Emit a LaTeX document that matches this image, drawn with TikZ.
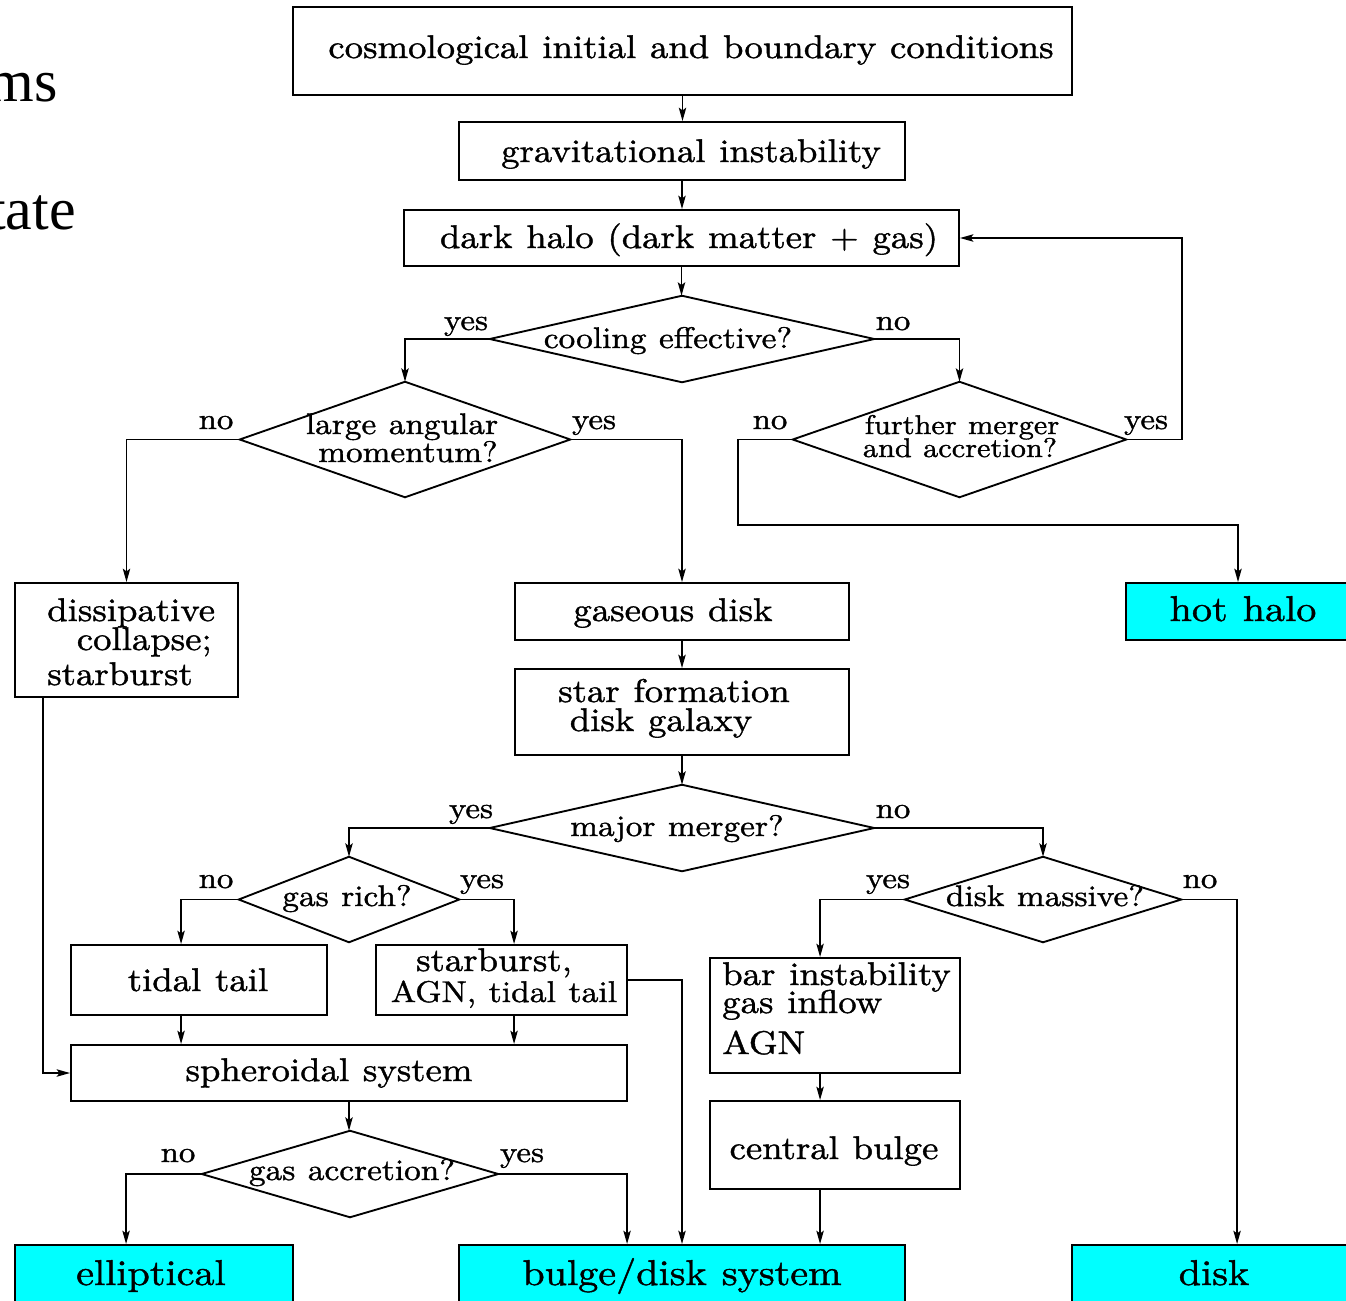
\documentclass[tikz,border=0pt]{standalone}
\usepackage{fontspec}
\newfontfamily\timesf{Liberation Serif}
\newfontfamily\diagf{lmroman10-regular.otf}[FakeStretch=1.12,FakeBold=1.2]
\usetikzlibrary{fit,calc,arrows.meta}
\definecolor{cy}{RGB}{0,255,255}
\newcommand\fboxtxt{\diagf\fontsize{24.6}{29}\selectfont\spaceskip=0.42em plus 0.1em}
\newcommand\fnarrowtxt{\diagf\fontsize{22.5}{27}\selectfont\spaceskip=0.42em plus 0.1em}
\newcommand\fdectxt{\diagf\fontsize{22.3}{27}\selectfont\spaceskip=0.42em plus 0.1em}
\newcommand\flabtxt{\diagf\fontsize{22}{26}\selectfont}
\newcommand\ftermtxt{\diagf\fontsize{26.9}{31}\selectfont\spaceskip=0.42em plus 0.1em}
\newcommand\fsmalltxt{\diagf\fontsize{20.3}{24}\selectfont\spaceskip=0.42em plus 0.1em}
\tikzset{
  ln/.style={line width=1.4pt},
  arr/.style={ln,-{Stealth[length=10pt,width=5.5pt,inset=2pt]}},
  box/.style={draw,ln,inner sep=0pt},
  term/.style={box,fill=cy},
  dec/.style={inner sep=0pt},
  bt/.style={inner sep=0pt,anchor=base,font=\fboxtxt},
  btl/.style={inner sep=0pt,anchor=base west,font=\fboxtxt},
  dt/.style={inner sep=0pt,anchor=base,font=\fdectxt},
  lab/.style={inner sep=0pt,anchor=base,font=\flabtxt},
  tt/.style={inner sep=0pt,anchor=base,font=\ftermtxt},
  side/.style={inner sep=0pt,font=\timesf\fontsize{45}{50}\selectfont},
}
\newcommand\diam[1]{\draw[ln] (#1.north) -- (#1.east) -- (#1.south) -- (#1.west) -- cycle;}
\begin{document}
\begin{tikzpicture}[x=0.75pt,y=-0.75pt]
\useasboundingbox (0,0) rectangle (1346,1300);
\fill[white] (0,0) rectangle (1346,1300);
\clip (0,0) rectangle (1346,1300);

% stray slide text
\node[side,anchor=base east] (s1) at (58,101) {ms};
\node[side,anchor=base east] (s2) at (76,229) {tate};

% boxes
\node[box,fit={(293,7)(1072,95)}] (b1) {};
\node[bt] (b1t) at (691,58) {cosmological initial and boundary conditions};
\node[box,fit={(459,122)(905,180)}] (b2) {};
\node[bt] (b2t) at (691,162) {gravitational instability};
\node[box,fit={(404,210)(959,266)}] (b3) {};
\node[bt] (b3t) at (689,248) {dark halo (dark matter + gas)};
\node[box,fit={(15,583)(238,697)}] (b4) {};
\node[btl] (b4a) at (47,621) {dissipative};
\node[bt,anchor=base east] (b4b) at (212,650) {collapse;};
\node[btl] (b4c) at (47,685) {starburst};
\node[box,fit={(515,583)(849,640)}] (b5) {};
\node[bt] (b5t) at (673,621) {gaseous disk};
\node[box,fit={(515,669)(849,755)}] (b6) {};
\node[bt] (b6a) at (674,702) {star formation};
\node[bt] (b6b) at (661,731) {disk galaxy};
\node[term,fit={(1126,583)(1350,640)}] (hot) {};
\node[tt] (hott) at (1243,621) {hot halo};
\node[box,fit={(71,945)(327,1015)}] (b7) {};
\node[bt] (b7t) at (198,991) {tidal tail};
\node[box,fit={(376,945)(627,1015)}] (b8) {};
\node[bt] (b8a) at (494,971) {starburst,};
\node[bt,font=\fnarrowtxt] (b8b) at (504,1002) {AGN, tidal tail};
\node[box,fit={(71,1045)(627,1101)}] (b9) {};
\node[bt] (b9t) at (329,1081) {spheroidal system};
\node[box,fit={(710,958)(960,1073)}] (b13) {};
\node[btl] (b13a) at (722,985) {bar instability};
\node[btl] (b13b) at (722,1013) {gas inflow};
\node[btl] (b13c) at (722,1054) {AGN};
\node[box,fit={(710,1101)(960,1189)}] (b14) {};
\node[bt] (b14t) at (834,1159) {central bulge};
\node[term,fit={(15,1245)(293,1320)}] (b10) {};
\node[tt] (b10t) at (151,1285) {elliptical};
\node[term,fit={(459,1245)(905,1320)}] (b11) {};
\node[tt] (b11t) at (682,1285) {bulge/disk system};
\node[term,fit={(1072,1245)(1360,1320)}] (b12) {};
\node[tt] (b12t) at (1214,1285) {disk};

% decisions
\node[dec,fit={(490,296)(874,382)}] (d1) {}; \diam{d1}
\node[dt] (d1t) at (668,348) {cooling effective?};
\node[dec,fit={(240,382)(570,497)}] (d2) {}; \diam{d2}
\node[dt] (d2a) at (402,434) {large angular};
\node[dt] (d2b) at (408,462) {momentum?};
\node[dec,fit={(793,382)(1126,497)}] (d3) {}; \diam{d3}
\node[dt,font=\fsmalltxt] (d3a) at (962,434) {further merger};
\node[dt,font=\fsmalltxt] (d3b) at (960,457) {and accretion?};
\node[dec,fit={(490,785)(874,871)}] (d4) {}; \diam{d4}
\node[dt] (d4t) at (677,836) {major merger?};
\node[dec,fit={(239,857)(459,942)}] (d5) {}; \diam{d5}
\node[dt] (d5t) at (347,906) {gas rich?};
\node[dec,fit={(905,857)(1181,942)}] (d6) {}; \diam{d6}
\node[dt] (d6t) at (1045,906) {disk massive?};
\node[dec,fit={(202,1131)(498,1217)}] (d7) {}; \diam{d7}
\node[dt] (d7t) at (352,1180) {gas accretion?};

% yes/no labels
\node[lab] (l1) at (466,330) {yes};
\node[lab] (l2) at (893,330) {no};
\node[lab] (l3) at (216,429) {no};
\node[lab] (l4) at (594,429) {yes};
\node[lab] (l5) at (770,429) {no};
\node[lab] (l6) at (1146,429) {yes};
\node[lab] (l7) at (471,818) {yes};
\node[lab] (l8) at (893,818) {no};
\node[lab] (l9) at (216,888) {no};
\node[lab] (l10) at (482,888) {yes};
\node[lab] (l11) at (888,888) {yes};
\node[lab] (l12) at (1200,888) {no};
\node[lab] (l13) at (178,1162) {no};
\node[lab] (l14) at (522,1162) {yes};

% connectors
\coordinate (j1) at (738,525);
\coordinate (j2) at (1182,238);
\coordinate (c4) at (43,697);
\draw[arr] (b1.south) -- (b1.south |- b2.north);
\draw[arr] (b2.south) -- (b2.south |- b3.north);
\draw[arr] (b3.south) -- (b3.south |- d1.north);
\draw[arr] (d1.west) -| (d2.north);
\draw[arr] (d1.east) -| (d3.north);
\draw[arr] (d2.west) -| (b4.north);
\draw[arr] (d2.east) -| (b5.north);
\draw[arr] (d3.west) -| (j1) -| (hot.north);
\draw[arr] (d3.east) -| (j2) -- (b3.east);
\draw[arr] (c4) |- (b9.west);
\draw[arr] (b5.south) -- (b6.north);
\draw[arr] (b6.south) -- (b6.south |- d4.north);
\draw[arr] (d4.west) -| (d5.north);
\draw[arr] (d4.east) -| (d6.north);
\draw[arr] (d5.west) -| ($(b7.north west)+(111,0)$);
\draw[arr] (d5.east) -| ($(b8.north west)+(139,0)$);
\draw[arr] ($(b7.south west)+(111,0)$) -- ($(b9.north west)+(111,0)$);
\draw[arr] ($(b8.south west)+(139,0)$) -- ($(b9.north west)+(444,0)$);
\draw[arr] (b8.east) -| (b11.north);
\draw[arr] (b9.south) -- (b9.south |- d7.north);
\draw[arr] (d7.west) -| ($(b10.north west)+(112,0)$);
\draw[arr] (d7.east) -| ($(b11.north west)+(169,0)$);
\draw[arr] (d6.west) -| ($(b13.north west)+(111,0)$);
\draw[arr] ($(b13.south west)+(111,0)$) -- ($(b14.north west)+(111,0)$);
\draw[arr] ($(b14.south west)+(111,0)$) -- ($(b11.north west)+(362,0)$);
\draw[arr] (d6.east) -| ($(b12.north west)+(166,0)$);
\end{tikzpicture}
\end{document}
